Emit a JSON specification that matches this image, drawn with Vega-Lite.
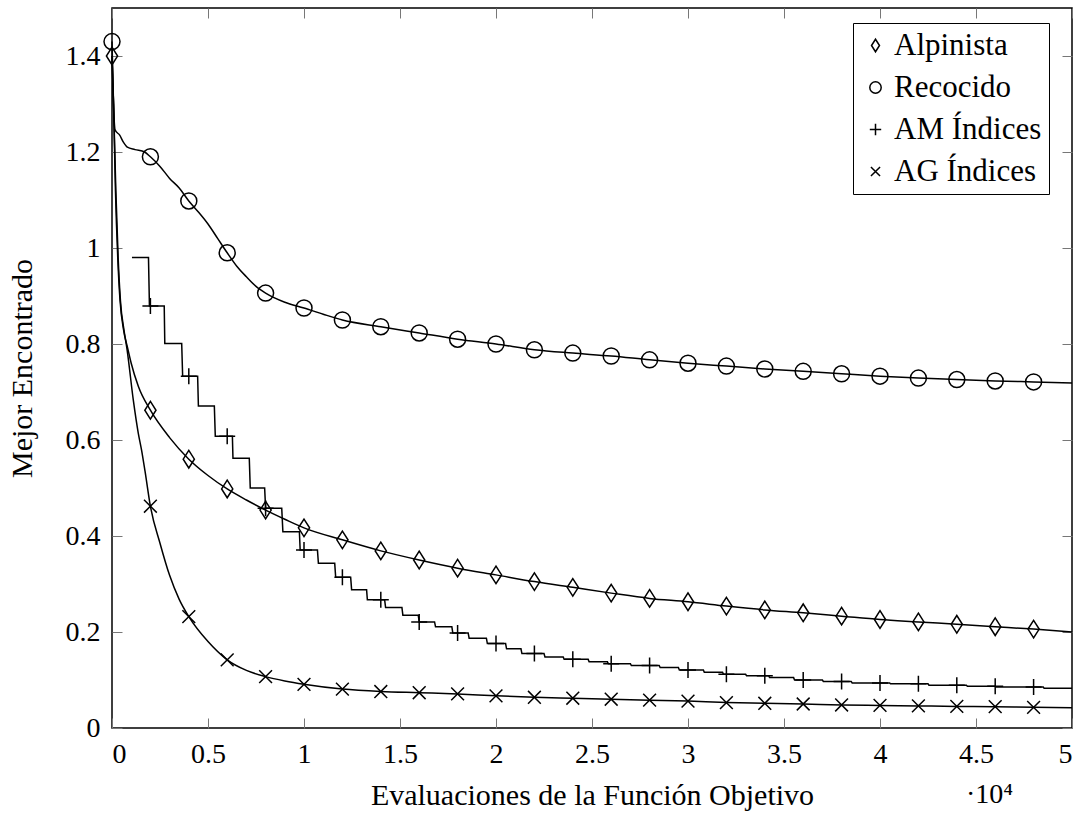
{
  "$schema": "https://vega.github.io/schema/vega-lite/v6.json",
  "width": 960,
  "height": 720,
  "autosize": {"type": "none"},
  "padding": {"left": 112, "top": 8, "right": 16, "bottom": 89},
  "background": "white",
  "config": {
    "view": {"stroke": "black", "strokeWidth": 1.5},
    "font": "Liberation Serif",
    "style": {
      "guide-label": {"font": "Liberation Serif", "fill": "black"},
      "guide-title": {"font": "Liberation Serif", "fill": "black"}
    },
    "axis": {
      "labelFont": "Liberation Serif", "titleFont": "Liberation Serif",
      "labelFontSize": 28, "titleFontSize": 30, "titleFontWeight": "normal",
      "labelColor": "black", "titleColor": "black",
      "domain": false, "grid": false,
      "tickColor": "#777", "tickSize": -10, "tickWidth": 1
    },
    "legend": {
      "labelFont": "Liberation Serif", "labelFontSize": 31, "labelColor": "black",
      "strokeColor": "black", "fillColor": "white", "padding": 7,
      "symbolSize": 130, "symbolStrokeWidth": 1.5, "rowPadding": 10, "labelOffset": 3
    }
  },
  "datasets": {
    "curves": [
      {"s": "Recocido", "x": 0, "y": 1.43}, {"s": "Recocido", "x": 0.008, "y": 1.3}, {"s": "Recocido", "x": 0.016, "y": 1.246},
      {"s": "Recocido", "x": 0.04, "y": 1.235}, {"s": "Recocido", "x": 0.06, "y": 1.22}, {"s": "Recocido", "x": 0.08, "y": 1.21},
      {"s": "Recocido", "x": 0.12, "y": 1.205}, {"s": "Recocido", "x": 0.17, "y": 1.2}, {"s": "Recocido", "x": 0.2, "y": 1.19},
      {"s": "Recocido", "x": 0.25, "y": 1.17}, {"s": "Recocido", "x": 0.3, "y": 1.145}, {"s": "Recocido", "x": 0.35, "y": 1.125},
      {"s": "Recocido", "x": 0.4, "y": 1.098}, {"s": "Recocido", "x": 0.45, "y": 1.075}, {"s": "Recocido", "x": 0.5, "y": 1.05},
      {"s": "Recocido", "x": 0.55, "y": 1.02}, {"s": "Recocido", "x": 0.6, "y": 0.99}, {"s": "Recocido", "x": 0.65, "y": 0.962},
      {"s": "Recocido", "x": 0.7, "y": 0.94}, {"s": "Recocido", "x": 0.75, "y": 0.92}, {"s": "Recocido", "x": 0.8, "y": 0.906},
      {"s": "Recocido", "x": 0.9, "y": 0.887}, {"s": "Recocido", "x": 1.0, "y": 0.875}, {"s": "Recocido", "x": 1.1, "y": 0.862},
      {"s": "Recocido", "x": 1.2, "y": 0.85}, {"s": "Recocido", "x": 1.4, "y": 0.836}, {"s": "Recocido", "x": 1.6, "y": 0.823},
      {"s": "Recocido", "x": 1.8, "y": 0.81}, {"s": "Recocido", "x": 2.0, "y": 0.8}, {"s": "Recocido", "x": 2.2, "y": 0.788},
      {"s": "Recocido", "x": 2.4, "y": 0.781}, {"s": "Recocido", "x": 2.6, "y": 0.775}, {"s": "Recocido", "x": 2.8, "y": 0.767},
      {"s": "Recocido", "x": 3.0, "y": 0.76}, {"s": "Recocido", "x": 3.2, "y": 0.754}, {"s": "Recocido", "x": 3.4, "y": 0.748},
      {"s": "Recocido", "x": 3.6, "y": 0.743}, {"s": "Recocido", "x": 3.8, "y": 0.738}, {"s": "Recocido", "x": 4.0, "y": 0.733},
      {"s": "Recocido", "x": 4.2, "y": 0.729}, {"s": "Recocido", "x": 4.4, "y": 0.726}, {"s": "Recocido", "x": 4.6, "y": 0.723},
      {"s": "Recocido", "x": 4.8, "y": 0.721}, {"s": "Recocido", "x": 5.0, "y": 0.719},

      {"s": "Alpinista", "x": 0, "y": 1.4}, {"s": "Alpinista", "x": 0.008, "y": 1.3}, {"s": "Alpinista", "x": 0.018, "y": 1.12},
      {"s": "Alpinista", "x": 0.03, "y": 0.98}, {"s": "Alpinista", "x": 0.042, "y": 0.89}, {"s": "Alpinista", "x": 0.06, "y": 0.83},
      {"s": "Alpinista", "x": 0.08, "y": 0.794}, {"s": "Alpinista", "x": 0.1, "y": 0.76}, {"s": "Alpinista", "x": 0.137, "y": 0.712},
      {"s": "Alpinista", "x": 0.2, "y": 0.662}, {"s": "Alpinista", "x": 0.3, "y": 0.605}, {"s": "Alpinista", "x": 0.4, "y": 0.56},
      {"s": "Alpinista", "x": 0.5, "y": 0.526}, {"s": "Alpinista", "x": 0.6, "y": 0.498}, {"s": "Alpinista", "x": 0.7, "y": 0.475},
      {"s": "Alpinista", "x": 0.8, "y": 0.454}, {"s": "Alpinista", "x": 0.9, "y": 0.435}, {"s": "Alpinista", "x": 1.0, "y": 0.417},
      {"s": "Alpinista", "x": 1.2, "y": 0.392}, {"s": "Alpinista", "x": 1.4, "y": 0.369}, {"s": "Alpinista", "x": 1.6, "y": 0.35},
      {"s": "Alpinista", "x": 1.8, "y": 0.333}, {"s": "Alpinista", "x": 2.0, "y": 0.319}, {"s": "Alpinista", "x": 2.2, "y": 0.305},
      {"s": "Alpinista", "x": 2.4, "y": 0.293}, {"s": "Alpinista", "x": 2.6, "y": 0.281}, {"s": "Alpinista", "x": 2.8, "y": 0.27},
      {"s": "Alpinista", "x": 3.0, "y": 0.263}, {"s": "Alpinista", "x": 3.2, "y": 0.254}, {"s": "Alpinista", "x": 3.4, "y": 0.246},
      {"s": "Alpinista", "x": 3.6, "y": 0.24}, {"s": "Alpinista", "x": 3.8, "y": 0.233}, {"s": "Alpinista", "x": 4.0, "y": 0.226},
      {"s": "Alpinista", "x": 4.2, "y": 0.221}, {"s": "Alpinista", "x": 4.4, "y": 0.216}, {"s": "Alpinista", "x": 4.6, "y": 0.211},
      {"s": "Alpinista", "x": 4.8, "y": 0.206}, {"s": "Alpinista", "x": 5.0, "y": 0.2},

      {"s": "AG Índices", "x": 0, "y": 1.4}, {"s": "AG Índices", "x": 0.008, "y": 1.3}, {"s": "AG Índices", "x": 0.02, "y": 1.12},
      {"s": "AG Índices", "x": 0.032, "y": 0.98}, {"s": "AG Índices", "x": 0.044, "y": 0.89}, {"s": "AG Índices", "x": 0.062, "y": 0.83},
      {"s": "AG Índices", "x": 0.078, "y": 0.79}, {"s": "AG Índices", "x": 0.111, "y": 0.683}, {"s": "AG Índices", "x": 0.137, "y": 0.614},
      {"s": "AG Índices", "x": 0.154, "y": 0.579}, {"s": "AG Índices", "x": 0.172, "y": 0.535}, {"s": "AG Índices", "x": 0.2, "y": 0.462},
      {"s": "AG Índices", "x": 0.25, "y": 0.385}, {"s": "AG Índices", "x": 0.3, "y": 0.318}, {"s": "AG Índices", "x": 0.35, "y": 0.268},
      {"s": "AG Índices", "x": 0.4, "y": 0.232}, {"s": "AG Índices", "x": 0.5, "y": 0.18}, {"s": "AG Índices", "x": 0.6, "y": 0.142},
      {"s": "AG Índices", "x": 0.7, "y": 0.12}, {"s": "AG Índices", "x": 0.8, "y": 0.107}, {"s": "AG Índices", "x": 0.9, "y": 0.098},
      {"s": "AG Índices", "x": 1.0, "y": 0.091}, {"s": "AG Índices", "x": 1.2, "y": 0.081}, {"s": "AG Índices", "x": 1.4, "y": 0.076},
      {"s": "AG Índices", "x": 1.6, "y": 0.0735}, {"s": "AG Índices", "x": 1.8, "y": 0.071}, {"s": "AG Índices", "x": 2.0, "y": 0.067},
      {"s": "AG Índices", "x": 2.2, "y": 0.064}, {"s": "AG Índices", "x": 2.4, "y": 0.062}, {"s": "AG Índices", "x": 2.6, "y": 0.06},
      {"s": "AG Índices", "x": 2.8, "y": 0.058}, {"s": "AG Índices", "x": 3.0, "y": 0.056}, {"s": "AG Índices", "x": 3.2, "y": 0.053},
      {"s": "AG Índices", "x": 3.4, "y": 0.0515}, {"s": "AG Índices", "x": 3.6, "y": 0.05}, {"s": "AG Índices", "x": 3.8, "y": 0.048},
      {"s": "AG Índices", "x": 4.0, "y": 0.047}, {"s": "AG Índices", "x": 4.2, "y": 0.046}, {"s": "AG Índices", "x": 4.4, "y": 0.045},
      {"s": "AG Índices", "x": 4.6, "y": 0.0444}, {"s": "AG Índices", "x": 4.8, "y": 0.043}, {"s": "AG Índices", "x": 5.0, "y": 0.0424}
    ],
    "steps": [
      {"x": 0.104, "y": 0.98}, {"x": 0.19, "y": 0.98}, {"x": 0.195, "y": 0.879}, {"x": 0.272, "y": 0.879},
      {"x": 0.275, "y": 0.801}, {"x": 0.363, "y": 0.801}, {"x": 0.368, "y": 0.733}, {"x": 0.446, "y": 0.733},
      {"x": 0.45, "y": 0.671}, {"x": 0.533, "y": 0.671}, {"x": 0.538, "y": 0.608}, {"x": 0.627, "y": 0.608},
      {"x": 0.63, "y": 0.562}, {"x": 0.715, "y": 0.562}, {"x": 0.72, "y": 0.5}, {"x": 0.795, "y": 0.5},
      {"x": 0.8, "y": 0.458}, {"x": 0.884, "y": 0.458}, {"x": 0.89, "y": 0.409}, {"x": 0.976, "y": 0.409},
      {"x": 0.98, "y": 0.371}, {"x": 1.07, "y": 0.371}, {"x": 1.075, "y": 0.343}, {"x": 1.16, "y": 0.343},
      {"x": 1.165, "y": 0.314}, {"x": 1.243, "y": 0.314}, {"x": 1.248, "y": 0.288}, {"x": 1.326, "y": 0.288},
      {"x": 1.33, "y": 0.267}, {"x": 1.42, "y": 0.267}, {"x": 1.425, "y": 0.251}, {"x": 1.51, "y": 0.251},
      {"x": 1.515, "y": 0.235}, {"x": 1.595, "y": 0.235}, {"x": 1.6, "y": 0.221}, {"x": 1.68, "y": 0.221},
      {"x": 1.685, "y": 0.211}, {"x": 1.77, "y": 0.211}, {"x": 1.775, "y": 0.198}, {"x": 1.855, "y": 0.198},
      {"x": 1.86, "y": 0.187}, {"x": 1.95, "y": 0.187}, {"x": 1.955, "y": 0.176}, {"x": 2.05, "y": 0.176},
      {"x": 2.055, "y": 0.165}, {"x": 2.13, "y": 0.165}, {"x": 2.135, "y": 0.155}, {"x": 2.25, "y": 0.155},
      {"x": 2.255, "y": 0.148}, {"x": 2.35, "y": 0.148}, {"x": 2.355, "y": 0.143}, {"x": 2.48, "y": 0.143},
      {"x": 2.485, "y": 0.138}, {"x": 2.58, "y": 0.138}, {"x": 2.585, "y": 0.134}, {"x": 2.7, "y": 0.134},
      {"x": 2.705, "y": 0.13}, {"x": 2.85, "y": 0.13}, {"x": 2.855, "y": 0.126}, {"x": 2.95, "y": 0.126},
      {"x": 2.955, "y": 0.121}, {"x": 3.08, "y": 0.121}, {"x": 3.085, "y": 0.116}, {"x": 3.18, "y": 0.116},
      {"x": 3.185, "y": 0.112}, {"x": 3.3, "y": 0.112}, {"x": 3.305, "y": 0.109}, {"x": 3.42, "y": 0.109},
      {"x": 3.425, "y": 0.105}, {"x": 3.55, "y": 0.105}, {"x": 3.555, "y": 0.1}, {"x": 3.7, "y": 0.1},
      {"x": 3.705, "y": 0.097}, {"x": 3.85, "y": 0.097}, {"x": 3.855, "y": 0.094}, {"x": 4.05, "y": 0.094},
      {"x": 4.055, "y": 0.092}, {"x": 4.25, "y": 0.092}, {"x": 4.255, "y": 0.089}, {"x": 4.45, "y": 0.089},
      {"x": 4.455, "y": 0.087}, {"x": 4.6, "y": 0.087}, {"x": 4.605, "y": 0.0855}, {"x": 4.85, "y": 0.0855},
      {"x": 4.855, "y": 0.0826}, {"x": 5.0, "y": 0.0826}
    ],
    "marks": [
      {"s": "Alpinista", "x": 0, "y": 1.4}, {"s": "Alpinista", "x": 0.2, "y": 0.662}, {"s": "Alpinista", "x": 0.4, "y": 0.56},
      {"s": "Alpinista", "x": 0.6, "y": 0.498}, {"s": "Alpinista", "x": 0.8, "y": 0.454}, {"s": "Alpinista", "x": 1.0, "y": 0.417},
      {"s": "Alpinista", "x": 1.2, "y": 0.392}, {"s": "Alpinista", "x": 1.4, "y": 0.369}, {"s": "Alpinista", "x": 1.6, "y": 0.35},
      {"s": "Alpinista", "x": 1.8, "y": 0.333}, {"s": "Alpinista", "x": 2.0, "y": 0.319}, {"s": "Alpinista", "x": 2.2, "y": 0.305},
      {"s": "Alpinista", "x": 2.4, "y": 0.293}, {"s": "Alpinista", "x": 2.6, "y": 0.281}, {"s": "Alpinista", "x": 2.8, "y": 0.27},
      {"s": "Alpinista", "x": 3.0, "y": 0.263}, {"s": "Alpinista", "x": 3.2, "y": 0.254}, {"s": "Alpinista", "x": 3.4, "y": 0.246},
      {"s": "Alpinista", "x": 3.6, "y": 0.24}, {"s": "Alpinista", "x": 3.8, "y": 0.233}, {"s": "Alpinista", "x": 4.0, "y": 0.226},
      {"s": "Alpinista", "x": 4.2, "y": 0.221}, {"s": "Alpinista", "x": 4.4, "y": 0.216}, {"s": "Alpinista", "x": 4.6, "y": 0.211},
      {"s": "Alpinista", "x": 4.8, "y": 0.206},

      {"s": "Recocido", "x": 0, "y": 1.43}, {"s": "Recocido", "x": 0.2, "y": 1.19}, {"s": "Recocido", "x": 0.4, "y": 1.098},
      {"s": "Recocido", "x": 0.6, "y": 0.99}, {"s": "Recocido", "x": 0.8, "y": 0.906}, {"s": "Recocido", "x": 1.0, "y": 0.875},
      {"s": "Recocido", "x": 1.2, "y": 0.85}, {"s": "Recocido", "x": 1.4, "y": 0.836}, {"s": "Recocido", "x": 1.6, "y": 0.823},
      {"s": "Recocido", "x": 1.8, "y": 0.81}, {"s": "Recocido", "x": 2.0, "y": 0.8}, {"s": "Recocido", "x": 2.2, "y": 0.788},
      {"s": "Recocido", "x": 2.4, "y": 0.781}, {"s": "Recocido", "x": 2.6, "y": 0.775}, {"s": "Recocido", "x": 2.8, "y": 0.767},
      {"s": "Recocido", "x": 3.0, "y": 0.76}, {"s": "Recocido", "x": 3.2, "y": 0.754}, {"s": "Recocido", "x": 3.4, "y": 0.748},
      {"s": "Recocido", "x": 3.6, "y": 0.743}, {"s": "Recocido", "x": 3.8, "y": 0.738}, {"s": "Recocido", "x": 4.0, "y": 0.733},
      {"s": "Recocido", "x": 4.2, "y": 0.729}, {"s": "Recocido", "x": 4.4, "y": 0.726}, {"s": "Recocido", "x": 4.6, "y": 0.723},
      {"s": "Recocido", "x": 4.8, "y": 0.721},

      {"s": "AM Índices", "x": 0.2, "y": 0.879}, {"s": "AM Índices", "x": 0.4, "y": 0.733}, {"s": "AM Índices", "x": 0.6, "y": 0.608},
      {"s": "AM Índices", "x": 0.8, "y": 0.458}, {"s": "AM Índices", "x": 1.0, "y": 0.371}, {"s": "AM Índices", "x": 1.2, "y": 0.314},
      {"s": "AM Índices", "x": 1.4, "y": 0.267}, {"s": "AM Índices", "x": 1.6, "y": 0.221}, {"s": "AM Índices", "x": 1.8, "y": 0.198},
      {"s": "AM Índices", "x": 2.0, "y": 0.176}, {"s": "AM Índices", "x": 2.2, "y": 0.155}, {"s": "AM Índices", "x": 2.4, "y": 0.143},
      {"s": "AM Índices", "x": 2.6, "y": 0.134}, {"s": "AM Índices", "x": 2.8, "y": 0.13}, {"s": "AM Índices", "x": 3.0, "y": 0.121},
      {"s": "AM Índices", "x": 3.2, "y": 0.112}, {"s": "AM Índices", "x": 3.4, "y": 0.109}, {"s": "AM Índices", "x": 3.6, "y": 0.1},
      {"s": "AM Índices", "x": 3.8, "y": 0.097}, {"s": "AM Índices", "x": 4.0, "y": 0.094}, {"s": "AM Índices", "x": 4.2, "y": 0.092},
      {"s": "AM Índices", "x": 4.4, "y": 0.089}, {"s": "AM Índices", "x": 4.6, "y": 0.087}, {"s": "AM Índices", "x": 4.8, "y": 0.0855},

      {"s": "AG Índices", "x": 0.2, "y": 0.462}, {"s": "AG Índices", "x": 0.4, "y": 0.232}, {"s": "AG Índices", "x": 0.6, "y": 0.142},
      {"s": "AG Índices", "x": 0.8, "y": 0.107}, {"s": "AG Índices", "x": 1.0, "y": 0.091}, {"s": "AG Índices", "x": 1.2, "y": 0.081},
      {"s": "AG Índices", "x": 1.4, "y": 0.076}, {"s": "AG Índices", "x": 1.6, "y": 0.0735}, {"s": "AG Índices", "x": 1.8, "y": 0.071},
      {"s": "AG Índices", "x": 2.0, "y": 0.067}, {"s": "AG Índices", "x": 2.2, "y": 0.064}, {"s": "AG Índices", "x": 2.4, "y": 0.062},
      {"s": "AG Índices", "x": 2.6, "y": 0.06}, {"s": "AG Índices", "x": 2.8, "y": 0.058}, {"s": "AG Índices", "x": 3.0, "y": 0.056},
      {"s": "AG Índices", "x": 3.2, "y": 0.053}, {"s": "AG Índices", "x": 3.4, "y": 0.0515}, {"s": "AG Índices", "x": 3.6, "y": 0.05},
      {"s": "AG Índices", "x": 3.8, "y": 0.048}, {"s": "AG Índices", "x": 4.0, "y": 0.047}, {"s": "AG Índices", "x": 4.2, "y": 0.046},
      {"s": "AG Índices", "x": 4.4, "y": 0.045}, {"s": "AG Índices", "x": 4.6, "y": 0.0444}, {"s": "AG Índices", "x": 4.8, "y": 0.043}
    ],
    "note": [{"t": "·10⁴", "x": 4.57, "y": -0.14}]
  },
  "layer": [
    {
      "data": {"name": "curves"},
      "mark": {"type": "line", "interpolate": "monotone", "color": "black", "strokeWidth": 1.5},
      "encoding": {
        "x": {"field": "x", "type": "quantitative", "scale": {"domain": [0, 5], "nice": false, "zero": false},
              "axis": {"orient": "bottom", "values": [0, 0.5, 1, 1.5, 2, 2.5, 3, 3.5, 4, 4.5, 5], "format": "~g",
                       "labelFont": "Liberation Serif", "titleFont": "Liberation Serif",
                       "title": "Evaluaciones de la Función Objetivo", "labelPadding": 22, "titlePadding": 12}},
        "y": {"field": "y", "type": "quantitative", "scale": {"domain": [0, 1.5], "nice": false, "zero": false},
              "axis": {"orient": "left", "values": [0, 0.2, 0.4, 0.6, 0.8, 1, 1.2, 1.4], "format": "~g",
                       "labelFont": "Liberation Serif", "titleFont": "Liberation Serif",
                       "title": "Mejor Encontrado", "labelPadding": 22, "titlePadding": 28}},
        "detail": {"field": "s", "type": "nominal"}
      }
    },
    {
      "data": {"name": "steps"},
      "mark": {"type": "line", "interpolate": "linear", "color": "black", "strokeWidth": 1.5},
      "encoding": {
        "x": {"field": "x", "type": "quantitative", "scale": {"domain": [0, 5], "nice": false, "zero": false}, "axis": null},
        "y": {"field": "y", "type": "quantitative", "scale": {"domain": [0, 1.5], "nice": false, "zero": false}, "axis": null}
      }
    },
    {
      "data": {"name": "marks"},
      "mark": {"type": "point", "filled": false, "color": "black", "strokeWidth": 1.5, "size": 256, "opacity": 1},
      "encoding": {
        "x": {"field": "x", "type": "quantitative", "scale": {"domain": [0, 5], "nice": false, "zero": false},
              "axis": {"orient": "top", "values": [0, 0.5, 1, 1.5, 2, 2.5, 3, 3.5, 4, 4.5, 5], "labels": false, "title": null}},
        "y": {"field": "y", "type": "quantitative", "scale": {"domain": [0, 1.5], "nice": false, "zero": false},
              "axis": {"orient": "right", "values": [0, 0.2, 0.4, 0.6, 0.8, 1, 1.2, 1.4], "labels": false, "title": null}},
        "shape": {
          "field": "s", "type": "nominal",
          "scale": {
            "domain": ["Alpinista", "Recocido", "AM Índices", "AG Índices"],
            "range": ["M0,-1.1L0.7,0L0,1.1L-0.7,0Z", "circle", "M-1,0H1M0,-1V1", "M-0.8,-0.8L0.8,0.8M-0.8,0.8L0.8,-0.8"]
          },
          "legend": {"title": null, "orient": "none", "legendX": 741, "legendY": 15,
                     "labelFont": "Liberation Serif", "labelFontSize": 31}
        }
      }
    },
    {
      "data": {"name": "note"},
      "mark": {"type": "text", "fontSize": 28, "font": "Liberation Serif", "color": "black", "align": "center", "baseline": "middle", "clip": false},
      "encoding": {
        "x": {"field": "x", "type": "quantitative", "scale": {"domain": [0, 5], "nice": false, "zero": false}, "axis": null},
        "y": {"field": "y", "type": "quantitative", "scale": {"domain": [0, 1.5], "nice": false, "zero": false}, "axis": null},
        "text": {"field": "t"}
      }
    }
  ],
  "resolve": {"axis": {"x": "independent", "y": "independent"}}
}
